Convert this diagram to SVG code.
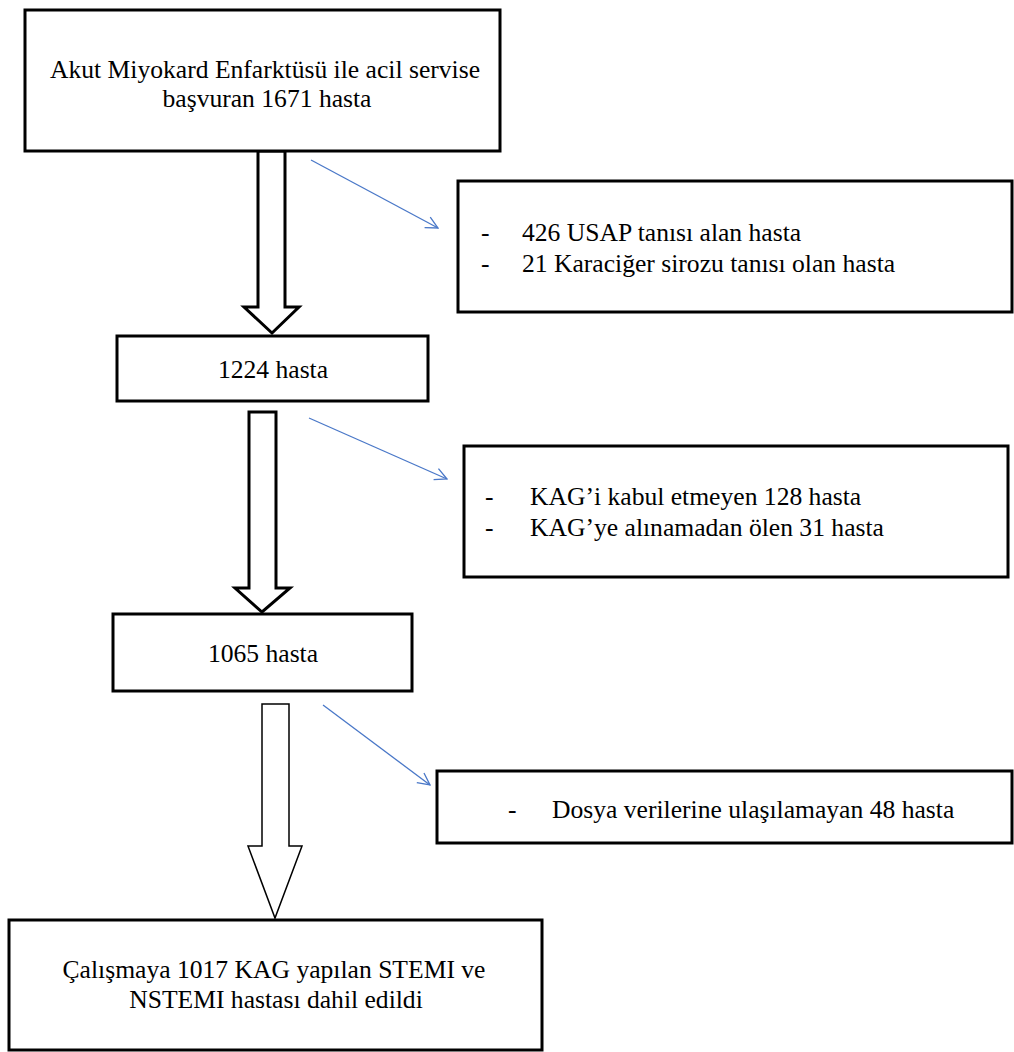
<svg xmlns="http://www.w3.org/2000/svg" width="1014" height="1052" viewBox="0 0 1014 1052">
<defs>
<style>
.box{fill:#fff;stroke:#000;stroke-width:3}
text{font-family:'Liberation Serif','Times New Roman','DejaVu Serif',serif;font-size:25.6px;fill:#000}
.c{text-anchor:middle}
.big{fill:#fff;stroke:#000;stroke-width:3;stroke-linejoin:miter}
.thin{fill:#fff;stroke:#000;stroke-width:1.5}
.blue{fill:none;stroke:#4a78c8;stroke-width:1.3}
</style>
<marker id="open" viewBox="0 0 14 14" refX="13" refY="7" markerWidth="14" markerHeight="14" markerUnits="userSpaceOnUse" orient="auto">
<path d="M1,1 L13,7 L1,13" fill="none" stroke="#4a78c8" stroke-width="1.3"/>
</marker>
</defs>
<rect width="1014" height="1052" fill="#fff"/>
<g id="connectors">
<path class="big" d="M258,151 V307 H244 L272,333 L299,307 H285 V151 Z"/>
<path class="big" d="M249,412 V588 H235 L262,612 L290,588 H276 V412 Z"/>
<path class="thin" d="M262,704 V846 H248 L275,918 L302,846 H289 V704 Z"/>
<line class="blue" x1="311" y1="160" x2="438" y2="228" marker-end="url(#open)"/>
<line class="blue" x1="309" y1="418" x2="447" y2="479" marker-end="url(#open)"/>
<line class="blue" x1="323" y1="705" x2="430" y2="785" marker-end="url(#open)"/>
</g>
<g id="n1">
<rect class="box" x="25" y="10" width="475" height="141"/>
<text class="c" x="265" y="78">Akut Miyokard Enfarktüsü ile acil servise</text>
<text class="c" x="267" y="107">başvuran 1671 hasta</text>
</g>
<g id="n2">
<rect class="box" x="458" y="181" width="554" height="131"/>
<text x="481" y="241">-</text>
<text x="522" y="241">426 USAP tanısı alan hasta</text>
<text x="481" y="272">-</text>
<text x="522" y="272">21 Karaciğer sirozu tanısı olan hasta</text>
</g>
<g id="n3">
<rect class="box" x="117" y="336" width="311" height="65"/>
<text class="c" x="273" y="378">1224 hasta</text>
</g>
<g id="n4">
<rect class="box" x="464" y="446" width="544" height="131"/>
<text x="485" y="505">-</text>
<text x="530" y="505">KAG’i kabul etmeyen 128 hasta</text>
<text x="485" y="536">-</text>
<text x="530" y="536">KAG’ye alınamadan ölen 31 hasta</text>
</g>
<g id="n5">
<rect class="box" x="113" y="614" width="299" height="77"/>
<text class="c" x="263" y="662">1065 hasta</text>
</g>
<g id="n6">
<rect class="box" x="437" y="771" width="575" height="72"/>
<text x="508" y="818">-</text>
<text x="552" y="818">Dosya verilerine ulaşılamayan 48 hasta</text>
</g>
<g id="n7">
<rect class="box" x="9" y="920" width="533" height="130"/>
<text class="c" x="274" y="978">Çalışmaya 1017 KAG yapılan STEMI ve</text>
<text class="c" x="276" y="1008">NSTEMI hastası dahil edildi</text>
</g>
</svg>
